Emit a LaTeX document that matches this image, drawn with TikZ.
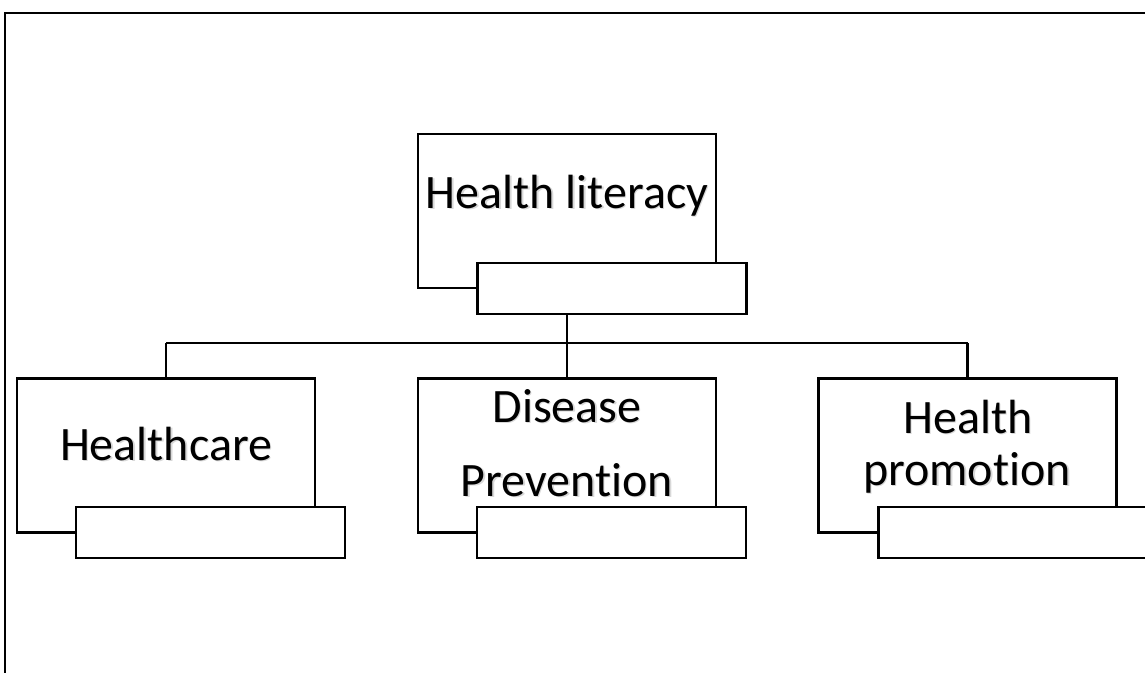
\documentclass[tikz,border=0pt]{standalone}
\usepackage{fontspec}
\setmainfont[Ligatures={NoCommon}]{Carlito}
\begin{document}
\begin{tikzpicture}[x=1pt,y=-1pt,
  bigbox/.style={draw=black,line width=2.2pt,fill=white,minimum width=298pt,minimum height=154pt,inner sep=0pt,outer sep=0pt},
  smallbox/.style={draw=black,line width=2.2pt,fill=white,minimum width=269pt,minimum height=51pt,inner sep=0pt,outer sep=0pt},
  label/.style={font=\fontsize{48}{52}\selectfont,anchor=base,inner sep=0pt,text=black},
  shadowlabel/.style={label,text=black!50,opacity=0.3},
  link/.style={draw=black,line width=2.2pt}]
\useasboundingbox (0,0) rectangle (1145,672);
\clip (0,0) rectangle (1145,672);
% outer frame
\draw[line width=2.8pt] (5,690) -- (5,13) -- (1160,13);
% top box
\node[bigbox] (hl) at (567,211) {};
\node[smallbox] (hls) at (612,288.5) {};
\node[shadowlabel] (hlts) at (568.4,209.4) {Health literacy};
\node[label] (hlt) at (567,208) {Health literacy};
% lower boxes
\node[bigbox] (hc) at (166,455.5) {};
\node[smallbox] (hcs) at (210.5,532.5) {};
\node[shadowlabel] (hcts) at (167.4,461.4) {Healthcare};
\node[label] (hct) at (166,460) {Healthcare};
\node[bigbox] (dp) at (567,455.5) {};
\node[smallbox] (dps) at (611.5,532.5) {};
\node[shadowlabel] (dpt1s) at (568.4,423.4) {Disease};
\node[shadowlabel] (dpt2s) at (568.4,497.4) {Prevention};
\node[label] (dpt1) at (567,422) {Disease};
\node[label] (dpt2) at (567,496) {Prevention};
\node[bigbox] (hp) at (967.5,455.5) {};
\node[smallbox] (hps) at (1013,532.5) {};
\node[shadowlabel] (hpt1s) at (969.4,434.4) {Health};
\node[shadowlabel] (hpt2s) at (968.4,486.4) {promotion};
\node[label] (hpt1) at (968,433) {Health};
\node[label] (hpt2) at (967,485) {promotion};
% connectors
\coordinate (bus) at (567,343);
\draw[link] (hl.center |- hls.south) -- (bus);
\draw[link] (hc.north |- bus) -- (hp.north |- bus);
\draw[link] (hc.north |- bus) -- (hc.north);
\draw[link] (bus) -- (dp.north);
\draw[link] (hp.north |- bus) -- (hp.north);
\end{tikzpicture}
\end{document}
